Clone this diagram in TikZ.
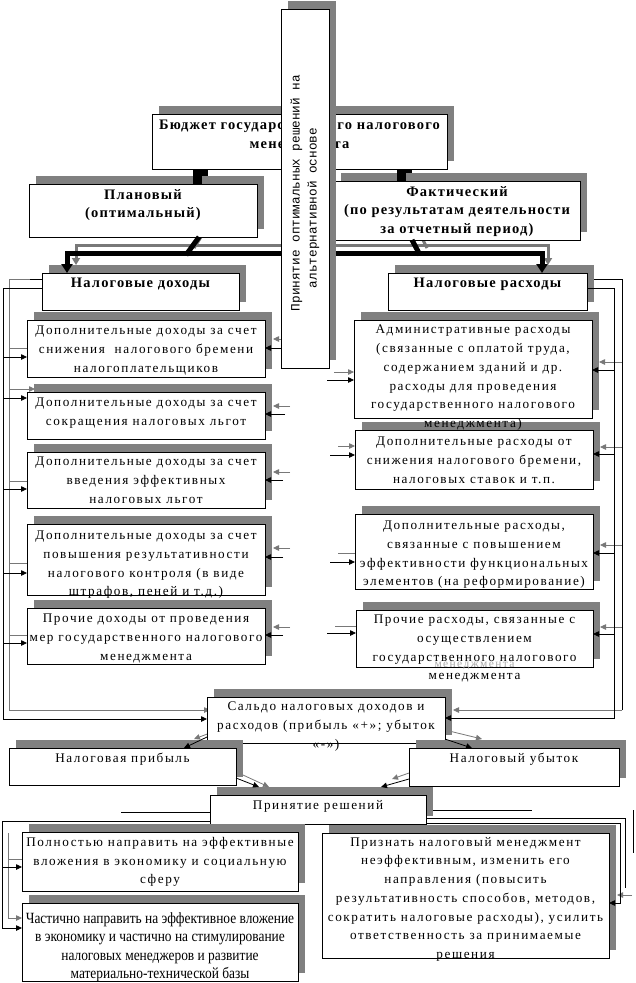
\documentclass[tikz,border=0pt]{standalone}
\usepackage{fontspec}
\setmainfont{Liberation Serif}
\newfontfamily\bodyfont[LetterSpace=12]{Liberation Serif}
\newfontfamily\titlefont[LetterSpace=8]{Liberation Serif}
\newfontfamily\condfont[FakeStretch=0.86]{Liberation Serif}
\newfontfamily\rotfont{Liberation Mono}
\usetikzlibrary{arrows.meta,shadows,backgrounds}
\definecolor{shade}{RGB}{128,128,128}
\definecolor{twin}{RGB}{120,120,120}
\definecolor{ghost}{RGB}{170,170,170}
\begin{document}
\begin{tikzpicture}[x=1pt,y=-1pt,
 box/.style={draw=black,line width=0.9pt,fill=white,inner sep=0pt,outer sep=0pt,anchor=north west,
   general shadow={fill=shade,draw=none,shadow xshift=7pt,shadow yshift=8pt}},
 txt/.style={inner sep=0pt,anchor=north,align=center,font=\bodyfont\fontsize{13.2}{18.7}\selectfont},
 ttl/.style={inner sep=0pt,anchor=north,align=center,font=\titlefont\bfseries\fontsize{14.5}{18.7}\selectfont},
 cond/.style={inner sep=0pt,anchor=north,align=center,font=\condfont\fontsize{15.6}{18.5}\selectfont},
 ln/.style={line width=0.8pt},
 ar/.style={line width=0.8pt,-{Triangle[length=6pt,width=5.5pt]}},
 gln/.style={line width=0.8pt,draw=twin},
 gar/.style={line width=0.8pt,draw=twin,-{Triangle[length=6pt,width=5.5pt]}},
 bigtip/.style={line width=5pt,{Triangle[length=9pt,width=11pt]}-{Triangle[length=9pt,width=11pt]}},
 gbigtip/.style={line width=3pt,draw=twin,{Triangle[length=7pt,width=8pt]}-{Triangle[length=7pt,width=8pt]}},
]
\useasboundingbox (0,0) rectangle (635,983);

% ---------- boxes ----------
\node[box,minimum width=295pt,minimum height=55pt] (budget) at (152,114) {};
\node[box,minimum width=228pt,minimum height=53pt] (plan) at (29,184) {};
\node[box,minimum width=246pt,minimum height=59pt] (fact) at (334,181) {};
\node[box,minimum width=197pt,minimum height=37pt] (inc) at (42,273) {};
\node[box,minimum width=199pt,minimum height=37pt] (exp) at (388,273) {};
\node[box,minimum width=238pt,minimum height=57pt] (L1) at (27,320) {};
\node[box,minimum width=238pt,minimum height=47pt] (L2) at (27,392) {};
\node[box,minimum width=238pt,minimum height=56pt] (L3) at (27,452) {};
\node[box,minimum width=238pt,minimum height=71pt] (L4) at (27,524) {};
\node[box,minimum width=238pt,minimum height=56pt] (L5) at (27,608) {};
\node[box,minimum width=238pt,minimum height=98pt] (R1) at (354,320) {};
\node[box,minimum width=238pt,minimum height=59pt] (R2) at (355,430) {};
\node[box,minimum width=238pt,minimum height=75pt] (R3) at (355,514) {};
\node[box,minimum width=237pt,minimum height=57pt] (R4) at (356,610) {};
\node[box,minimum width=238pt,minimum height=46pt] (saldo) at (207,697) {};
\node[box,minimum width=227pt,minimum height=37pt] (profit) at (9,748) {};
\node[box,minimum width=210pt,minimum height=38pt] (loss) at (409,748) {};
\node[box,minimum width=216pt,minimum height=29pt] (dec) at (210,795) {};
\node[box,minimum width=276pt,minimum height=59pt] (full) at (22,832) {};
\node[box,minimum width=276pt,minimum height=78pt] (part) at (22,903) {};
\node[box,minimum width=287pt,minimum height=125pt] (admit) at (322,833) {};

% ---------- black connectors ----------
\draw[line width=9pt] (budget.south -| 197.5,0) -- (plan.north -| 197.5,0);
\draw[line width=9pt] (budget.south -| 401.5,0) -- (fact.north -| 401.5,0);
\draw[line width=5pt] (plan.south -| 199,0) -- (186,255);
\draw[line width=5pt] (fact.south -| 412,0) -- (420,255);
\draw[bigtip] (inc.north -| 67,0) -- (67,253) -- (542,253) -- (exp.north -| 542,0);

% left bus (income)
\draw[ln] (30,279) -- (inc.west |- 0,279);
\draw[ar] (inc.west |- 0,288) -- (3,288) -- (3,719) -- (saldo.west |- 0,719);
\draw[ar] (3,357) -- (L1.west |- 0,357);
\draw[ar] (3,398) -- (L2.west |- 0,398);
\draw[ar] (3,489) -- (L3.west |- 0,489);
\draw[ar] (3,573) -- (L4.west |- 0,573);
\draw[ar] (3,643) -- (L5.west |- 0,643);

% right bus (expenses)
\draw[ln] (594,279) -- (622,279) -- (622,710);
\draw[ar] (exp.east |- 0,288) -- (614,288) -- (614,718) -- (saldo.east |- 0,718);
\draw[ar] (614,370) -- (R1.east |- 0,370);
\draw[ar] (614,454) -- (R2.east |- 0,454);
\draw[ar] (614,553) -- (R3.east |- 0,553);
\draw[ar] (614,634) -- (R4.east |- 0,634);

% arrows from the central box
\draw[ar] (283,348) -- (L1.east |- 0,348);
\draw[ar] (285,414) -- (L2.east |- 0,414);
\draw[ar] (283,480) -- (L3.east |- 0,480);
\draw[ar] (283,557) -- (L4.east |- 0,557);
\draw[ar] (283,635) -- (L5.east |- 0,635);
\draw[ar] (327,380) -- (R1.west |- 0,380);
\draw[ar] (330,455) -- (R2.west |- 0,455);
\draw[ar] (330,562) -- (R3.west |- 0,562);
\draw[ar] (327,633) -- (R4.west |- 0,633);

% saldo -> profit / loss -> decision
\draw[ar] (saldo.west |- 0,737) -- (184,748);
\draw[ar] (saldo.east |- 0,739) -- (472,748);
\draw[ar] (profit.east |- 0,778) -- (259,787);
\draw[ar] (loss.west |- 0,779) -- (381,787);

% decision -> outcomes
\draw[ln] (121,812) -- (dec.west |- 0,812);
\draw[ar] (dec.west |- 0,821) -- (2,821) -- (2,928) -- (part.west |- 0,928);
\draw[ar] (2,867) -- (full.west |- 0,867);
\draw[ln] (433,810) -- (532,810);
\draw[ln] (dec.east |- 0,818) -- (625,818) -- (625,888);
\draw[ar] (dec.east |- 0,823) -- (620,823) -- (620,903) -- (admit.east |- 0,903);
\draw[ln] (633,810) -- (633,853);

% ---------- texts ----------
\node[ttl] (tbudget) at (299.5,120) {Бюджет государственного налогового\\менеджмента};
\node[ttl] (tplan) at (143,189) {Плановый\\(оптимальный)};
\node[ttl] (tfact) at (457,186) {Фактический\\(по результатам деятельности\\за отчетный период)};
\node[ttl] (tinc) at (140.5,278) {Налоговые доходы};
\node[ttl] (texp) at (487.5,278) {Налоговые расходы};
\node[txt] (tL1) at (146,326) {Дополнительные доходы за счет\\снижения\ \ налогового бремени\\налогоплательщиков};
\node[txt] (tL2) at (146,398) {Дополнительные доходы за счет\\сокращения налоговых льгот};
\node[txt] (tL3) at (146,457) {Дополнительные доходы за счет\\введения эффективных\\налоговых льгот};
\node[txt] (tL4) at (146,531) {Дополнительные доходы за счет\\повышения результативности\\налогового контроля (в виде\\штрафов, пеней и т.д.)};
\node[txt] (tL5) at (146,614) {Прочие доходы от проведения\\мер государственного налогового\\менеджмента};
\node[txt] (tR1) at (473,325) {Административные расходы\\(связанные с оплатой труда,\\содержанием зданий и др.\\расходы для проведения\\государственного налогового\\менеджмента)};
\node[txt] (tR2) at (474,437) {Дополнительные расходы от\\снижения налогового бремени,\\налоговых ставок и т.п.};
\node[txt] (tR3) at (474,521) {Дополнительные расходы,\\связанные с повышением\\эффективности функциональных\\элементов (на реформирование)};
\node[txt,text=ghost,font=\bodyfont\fontsize{11.5}{14}\selectfont] (tR4g) at (474.5,662) {менеджмента};
\node[txt] (tR4) at (474.5,615) {Прочие расходы, связанные с\\осуществлением\\государственного налогового\\менеджмента};
\node[txt] (tsaldo) at (326,702) {Сальдо налоговых доходов и\\расходов (прибыль «+»; убыток\\«-»)};
\node[txt] (tprofit) at (122.5,753) {Налоговая прибыль};
\node[txt] (tloss) at (514,753) {Налоговый убыток};
\node[txt] (tdec) at (318,800) {Принятие решений};
\node[txt] (tfull) at (160,837) {Полностью направить на эффективные\\вложения в экономику и социальную\\сферу};
\node[cond] (tpart) at (160,912) {Частично направить на эффективное вложение\\в экономику и частично на стимулирование\\налоговых менеджеров и развитие\\материально-технической базы};
\node[txt] (tadmit) at (465.5,837) {Признать налоговый менеджмент\\неэффективным, изменить его\\направления (повысить\\результативность способов, методов,\\сократить налоговые расходы), усилить\\ответственность за принимаемые\\решения};

% ---------- central vertical box ----------
\node[box,minimum width=48pt,minimum height=359pt] (central) at (281,9) {};
\node[inner sep=0pt,rotate=90,align=center,font=\rotfont\fontsize{12.7}{17}\selectfont] (tcentral) at (305,193)
  {Принятие оптимальных решений на\\альтернативной основе\hspace*{30pt}};

% ---------- background: white page and grey twin lines ----------
\begin{pgfonlayer}{background}
\fill[white] (0,0) rectangle (635,983);
\draw[shade,line width=6pt] (205,161) -- (205,176);
\draw[shade,line width=6pt] (409,161) -- (409,173);
\draw[twin,line width=3pt] (206,229) -- (194,248);
\draw[twin,line width=3pt] (419,232) -- (427,248);
\draw[gbigtip] (76,265) -- (76,245) -- (548,245) -- (548,265);
\draw[gar] (42,279) -| (9,710) -- (210,710);
\draw[gln] (9,348) -- (27,348);
\draw[gar] (9,389) -- (35,389);
\draw[gln] (9,481) -- (27,481);
\draw[gln] (9,563) -- (27,563);
\draw[gln] (9,635) -- (27,635);
\draw[gar] (622,710) -- (453,710);
\draw[gar] (622,362) -- (599,362);
\draw[gar] (622,447) -- (600,447);
\draw[gar] (622,545) -- (600,545);
\draw[gar] (622,627) -- (600,627);
\draw[gar] (283,339) -- (273,339);
\draw[gar] (290,406) -- (273,406);
\draw[gar] (290,472) -- (273,472);
\draw[gar] (290,548) -- (273,548);
\draw[gar] (290,627) -- (273,627);
\draw[gar] (334,372) -- (354,372);
\draw[gar] (338,446) -- (355,446);
\draw[gln] (338,553) -- (355,553);
\draw[gln] (335,626) -- (356,626);
\draw[gar] (210,733) -- (194,739);
\draw[gar] (445,730) -- (482,739);
\draw[gar] (243,775) -- (269,787);
\draw[gar] (409,773) -- (392,779);
\draw[gar] (8,833) -- (8,918) -- (22,918);
\draw[gln] (8,859) -- (22,859);
\draw[gar] (632,895) -- (617,895);
\end{pgfonlayer}
\end{tikzpicture}
\end{document}
